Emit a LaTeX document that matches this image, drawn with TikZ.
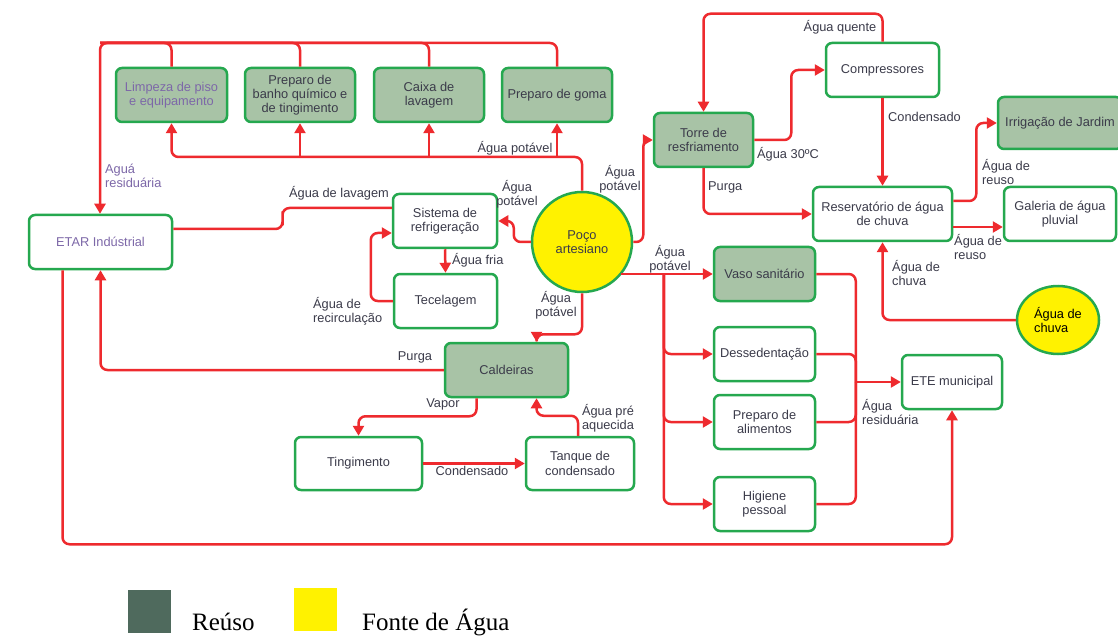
\documentclass[tikz,border=0pt]{standalone}
\usepackage{fontspec}
\setmainfont{Liberation Serif}
\newfontfamily\lsans{Liberation Sans}
\usetikzlibrary{arrows.meta,calc,shapes.geometric}
\definecolor{flowred}{HTML}{EE2A2E}
\definecolor{boxgreen}{HTML}{25A84F}
\definecolor{reusefill}{HTML}{A8C3A6}
\definecolor{srcyellow}{HTML}{FFF200}
\definecolor{txt}{HTML}{3B3B4A}
\definecolor{purp}{HTML}{7D68A8}
\definecolor{legdark}{HTML}{4F6A5D}
\begin{document}
\begin{tikzpicture}[x=1pt,y=-1pt,
 every node/.style={font=\lsans\fontsize{12.8}{14.3}\selectfont, text=txt},
 box/.style={draw=boxgreen, line width=2.5pt, rounded corners=6pt, fill=white, align=center, inner sep=0pt, minimum height=54pt},
 reuse/.style={box, fill=reusefill},
 src/.style={draw=boxgreen, line width=2.5pt, fill=srcyellow, align=center, inner sep=0pt},
 flow/.style={draw=flowred, line width=2.5pt, rounded corners=7pt},
 arr/.style={flow, -{Triangle[length=10pt,width=11pt]}},
 lbl/.style={inner sep=0pt, align=left},
 clbl/.style={inner sep=0pt, align=center},
 legtext/.style={font=\rmfamily\fontsize{25}{28}\selectfont, text=black, inner sep=0pt, anchor=base west},
]
\useasboundingbox (0,0) rectangle (1118,636);
\clip (0,0) rectangle (1118,636);
\fill[white] (0,0) rectangle (1118,636);

% ---- nodes ----
\node[reuse, minimum width=111pt, text=purp] (limp) at (171.5,95) {Limpeza de piso\\e equipamento};
\node[reuse, minimum width=110pt] (banho) at (300,95) {Preparo de\\banho químico e\\de tingimento};
\node[reuse, minimum width=110pt] (caixa) at (429,95) {Caixa de\\lavagem};
\node[reuse, minimum width=110pt] (goma) at (557,95) {Preparo de goma};
\node[reuse, minimum width=99pt] (torre) at (703.5,140) {Torre de\\resfriamento};
\node[box, minimum width=113pt] (comp) at (882.5,70) {Compressores};
\node[reuse, minimum width=124pt, minimum height=52pt] (irrig) at (1060,123) {Irrigação de Jardim};
\node[box, minimum width=139pt] (resv) at (882.5,214) {Reservatório de água\\de chuva};
\node[box, minimum width=112pt] (gal) at (1060,214) {Galeria de água\\pluvial};
\node[src, ellipse, minimum width=82pt, minimum height=68pt, text=black, align=left] (chuva) at (1058,320) {Água de\\chuva};
\node[reuse, minimum width=101pt] (vaso) at (764.5,274) {Vaso sanitário};
\node[box, minimum width=101pt] (desse) at (764.5,354) {Dessedentação};
\node[box, minimum width=101pt] (alim) at (764.5,422) {Preparo de\\alimentos};
\node[box, minimum width=101pt] (hig) at (764.5,504) {Higiene\\pessoal};
\node[box, minimum width=100pt] (ete) at (952,382) {ETE municipal};
\node[src, circle, minimum size=100pt] (poco) at (582,242) {Poço\\artesiano};
\node[box, minimum width=104pt] (sist) at (445,221) {Sistema de\\refrigeração};
\node[box, minimum width=103pt] (tec) at (445.5,301) {Tecelagem};
\node[reuse, minimum width=123pt] (cald) at (506.5,370) {Caldeiras};
\node[box, minimum width=143pt, text=purp] (etar) at (100.5,242) {ETAR Indústrial};
\node[box, minimum width=127pt, minimum height=53pt] (ting) at (358.5,463.5) {Tingimento};
\node[box, minimum width=108pt, minimum height=53pt] (tanq) at (580,463.5) {Tanque de\\condensado};

% ---- coordinates ----
\coordinate (tl) at (100,43);
\coordinate (pl) at (0,157);
\coordinate (sp) at ($(vaso.west)+(-49,0)$);
\coordinate (mg) at ($(ete.west)+(-45,0)$);
\coordinate (la) at ($(etar.east)+(0,-13)$);
\coordinate (lb) at ($(sist.west)+(0,-13)$);

% ---- top loop to ETAR ----
\draw[arr] (goma.north) |- (tl) -- (tl |- etar.north);
\draw[flow] (limp.north) |- (tl);
\draw[flow] (banho.north) |- (tl);
\draw[flow] (caixa.north) |- (tl);
\node[lbl, text=purp, anchor=west] (lres) at (105,176) {Aguá\\residuária};

% ---- potable water to top boxes ----
\draw[arr] (poco.north) -- (poco.north |- pl) -| (limp.south);
\draw[arr] (banho.south |- pl) -- (banho.south);
\draw[arr] (caixa.south |- pl) -- (caixa.south);
\draw[arr] (goma.south |- pl) -- (goma.south);
\node[clbl] (lpot1) at (515,148) {Água potável};

% ---- Poco -> Sistema ----
\draw[arr] (poco.west) -- ++(-17,0) |- (sist.east);
\node[clbl] (lpot2) at (517,194) {Água\\potável};
\draw[arr] (sist.south) -- (tec.north);
\node[lbl, anchor=west] (lfria) at (452,260) {Água fria};
\draw[arr] (tec.west) -- ++(-22,0) |- ($(sist.west)+(0,12)$);
\node[lbl, anchor=west] (lrec) at (313,311) {Água de\\recirculação};
\draw[flow] (la) -| ($(la)!0.5!(lb)$) |- (lb);
\node[clbl] (llav) at (339,193) {Água de lavagem};

% ---- Poco -> Caldeiras ----
\draw[arr] (poco.south) -- ++(0,41) -| ($(cald.north)+(30,0)$);
\node[clbl] (lpot3) at (556,305) {Água\\potável};
\draw[arr] (cald.west) -| (etar.south);
\node[clbl] (lpur1) at (415,357) {Purga};
\draw[arr] ($(cald.south)+(-30,0)$) -- ++(0,18) -| (ting.north);
\node[clbl] (lvap) at (443,404) {Vapor};
\draw[arr] (ting.east) -- (tanq.west);
\node[clbl] (lcond1) at (472,471) {Condensado};
\draw[arr] ($(tanq.north)+(-2,0)$) -- ++(0,-20) -| ($(cald.south)+(30,0)$);
\node[clbl] (lpre) at (608,418) {Água pré\\aquecida};

% ---- bottom loop ETAR -> ETE ----
\draw[arr] ($(etar.south)+(-38,0)$) -- ++(0,274) -| (ete.south);

% ---- Poco -> Torre ----
\draw[arr] (poco.east) -- ++(10,0) |- (torre.west);
\node[clbl] (lpot4) at (620,179) {Água\\potável};
\draw[arr] (torre.east) -- ++(37,0) |- (comp.west);
\node[lbl, anchor=west] (l30) at (757,154) {Água 30ºC};
\draw[arr] (comp.north) -- ++(0,-28) -| (torre.north);
\node[clbl] (lquen) at (840,27) {Água quente};
\draw[arr] (comp.south) -- (resv.north);
\node[lbl, anchor=west] (lcond2) at (888,117) {Condensado};
\draw[arr] (torre.south) |- (resv.west);
\node[lbl, anchor=west] (lpur2) at (708,187) {Purga};
\draw[arr] ($(resv.east)+(0,-13)$) -- ++(23,0) |- (irrig.west);
\node[lbl, anchor=west] (lreu1) at (982,172) {Água de\\reuso};
\draw[arr] ($(resv.east)+(0,13)$) -- ($(gal.west)+(0,13)$);
\node[lbl, anchor=west] (lreu2) at (954,247) {Água de\\reuso};
\draw[arr] (chuva.west) -| (resv.south);
\node[lbl, anchor=west] (lchu) at (892,273) {Água de\\chuva};

% ---- Poco -> sanitary uses ----
\draw[arr] (vaso.west -| poco.-41) -- (vaso.west);
\draw[arr] (sp) |- (desse.west);
\draw[arr] (sp) |- (alim.west);
\draw[arr] (sp) |- (hig.west);
\node[clbl] (lpot5) at (670,259) {Água\\potável};

% ---- to ETE ----
\draw[flow] (vaso.east) -| (mg);
\draw[flow] (desse.east) -| (mg);
\draw[flow] (alim.east) -| (mg);
\draw[flow] (hig.east) -| (mg);
\draw[arr] (mg) -- (ete.west);
\node[lbl, anchor=west] (lresid) at (862,412) {Água\\residuária};

% ---- legend ----
\node[fill=legdark, minimum size=43pt, inner sep=0pt] (lg1) at (149.5,611.5) {};
\node[legtext] (lg1t) at (192,630) {Reúso};
\node[fill=yellow, minimum size=43pt, inner sep=0pt] (lg2) at (315.5,609.5) {};
\node[legtext] (lg2t) at (362,630) {Fonte de Água};
\end{tikzpicture}
\end{document}
